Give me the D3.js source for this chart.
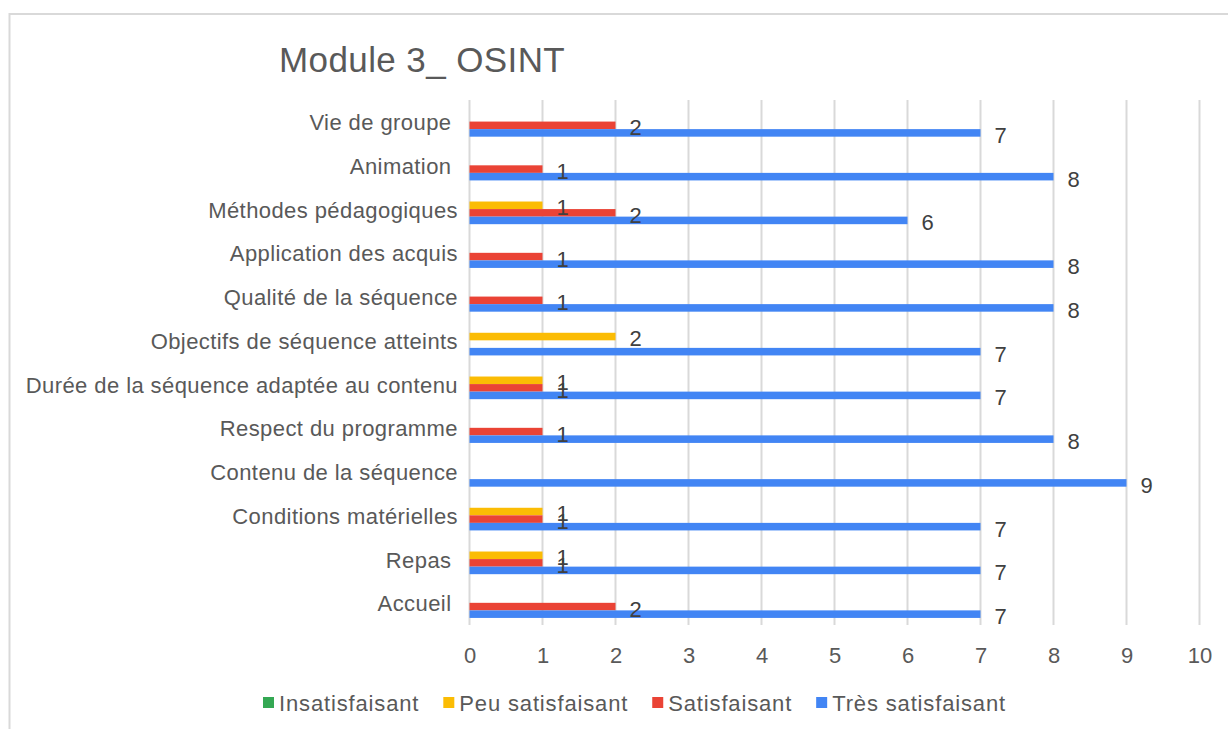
<!DOCTYPE html>
<html>
<head>
<meta charset="utf-8">
<script src="https://cdn.jsdelivr.net/npm/d3@7"></script>
<style>
  html, body { margin: 0; padding: 0; background: #fff; }
  svg { display: block; font-family: "Liberation Sans", Arial, sans-serif; }
</style>
</head>
<body>
<svg id="chart" width="1228" height="729"></svg>
<script>
// ---- Data ----
const title = "Module 3_ OSINT";
const categories = [
  "Vie de groupe ",
  "Animation ",
  "Méthodes pédagogiques",
  "Application des acquis",
  "Qualité de la séquence",
  "Objectifs de séquence atteints",
  "Durée de la séquence adaptée au contenu",
  "Respect du programme",
  "Contenu de la séquence",
  "Conditions matérielles",
  "Repas ",
  "Accueil "
];
const seriesNames = ["Insatisfaisant", "Peu satisfaisant", "Satisfaisant", "Très satisfaisant"];
const seriesColors = ["#34A853", "#FBBC04", "#EA4335", "#4285F4"];
const insatisfaisant   = [0, 0, 0, 0, 0, 0, 0, 0, 0, 0, 0, 0];
const peuSatisfaisant  = [0, 0, 1, 0, 0, 2, 1, 0, 0, 1, 1, 0];
const satisfaisant     = [2, 1, 2, 1, 1, 0, 1, 1, 0, 1, 1, 2];
const tresSatisfaisant = [7, 8, 6, 8, 8, 7, 7, 8, 9, 7, 7, 7];
const xTicks = [0, 1, 2, 3, 4, 5, 6, 7, 8, 9, 10];

const seriesValues = [insatisfaisant, peuSatisfaisant, satisfaisant, tresSatisfaisant];

// ---- Layout ----
const svg = d3.select("#chart");
const textColor = "#595959";
const gridColor = "#d9d9d9";

// chart border
svg.append("rect")
  .attr("x", 9.5).attr("y", 14)
  .attr("width", 1300).attr("height", 800)
  .attr("fill", "none").attr("stroke", gridColor).attr("stroke-width", 2);

// title
svg.append("text")
  .attr("x", 279).attr("y", 72)
  .attr("font-size", 35).attr("fill", textColor)
  .attr("letter-spacing", 0.4)
  .text(title);

const x = d3.scaleLinear().domain([0, 10]).range([469.5, 1199.5]);
const y = d3.scaleBand().domain(categories).range([100, 625]).paddingInner(0).paddingOuter(0);
const groupH = 30.2;
const ySub = d3.scaleBand().domain(seriesNames).range([0, groupH]);
const groupOffset = (y.bandwidth() - groupH) / 2 - 0.3;

// gridlines
svg.append("g").selectAll("line")
  .data(xTicks).join("line")
  .attr("x1", d => x(d)).attr("x2", d => x(d))
  .attr("y1", 100).attr("y2", 625)
  .attr("stroke", gridColor).attr("stroke-width", 2);

// x axis tick labels
const xAxis = d3.axisBottom(x).tickValues(xTicks).tickSize(0).tickPadding(0).tickFormat(d3.format("d"));
const xg = svg.append("g").attr("transform", "translate(0,647)").call(xAxis);
xg.select(".domain").remove();
xg.selectAll("text")
  .attr("font-size", 22).attr("fill", textColor)
  .attr("font-family", "Liberation Sans, Arial, sans-serif")
  .attr("dy", "0.72em");

// y axis category labels
const yAxis = d3.axisLeft(y).tickSize(0).tickPadding(0);
const yg = svg.append("g").attr("transform", "translate(458,0)").call(yAxis);
yg.select(".domain").remove();
yg.selectAll("text")
  .attr("font-size", 22).attr("fill", textColor)
  .attr("font-family", "Liberation Sans, Arial, sans-serif")
  .attr("letter-spacing", 0.42)
  .attr("dy", "0.37em")
  .style("white-space", "pre");

// bars
const rows = [];
categories.forEach((c, i) => {
  seriesNames.forEach((s, j) => {
    rows.push({ cat: c, series: s, color: seriesColors[j], value: seriesValues[j][i] });
  });
});

const barG = svg.append("g");
barG.selectAll("rect")
  .data(rows.filter(d => d.value > 0)).join("rect")
  .attr("x", x(0))
  .attr("y", d => y(d.cat) + groupOffset + ySub(d.series))
  .attr("width", d => x(d.value) - x(0))
  .attr("height", ySub.bandwidth())
  .attr("fill", d => d.color);

// data labels
barG.selectAll("text")
  .data(rows.filter(d => d.value > 0)).join("text")
  .attr("x", d => x(d.value) + 14)
  .attr("y", d => y(d.cat) + groupOffset + ySub(d.series) + ySub.bandwidth() / 2 + 2)
  .attr("dy", "0.36em")
  .attr("font-size", 22)
  .attr("fill", "#404040")
  .text(d => d.value);

// legend
const legend = svg.append("g").attr("transform", "translate(263,697)");
let lx = 0;
seriesNames.forEach((s, j) => {
  const g = legend.append("g").attr("transform", `translate(${lx},0)`);
  g.append("rect").attr("x", 0).attr("y", 0).attr("width", 11).attr("height", 11).attr("fill", seriesColors[j]);
  const t = g.append("text")
    .attr("x", 16).attr("y", 14)
    .attr("font-size", 22).attr("fill", textColor)
    .attr("letter-spacing", 0.85)
    .text(s);
  lx += 16 + t.node().getComputedTextLength() + 24;
});
</script>
</body>
</html>
